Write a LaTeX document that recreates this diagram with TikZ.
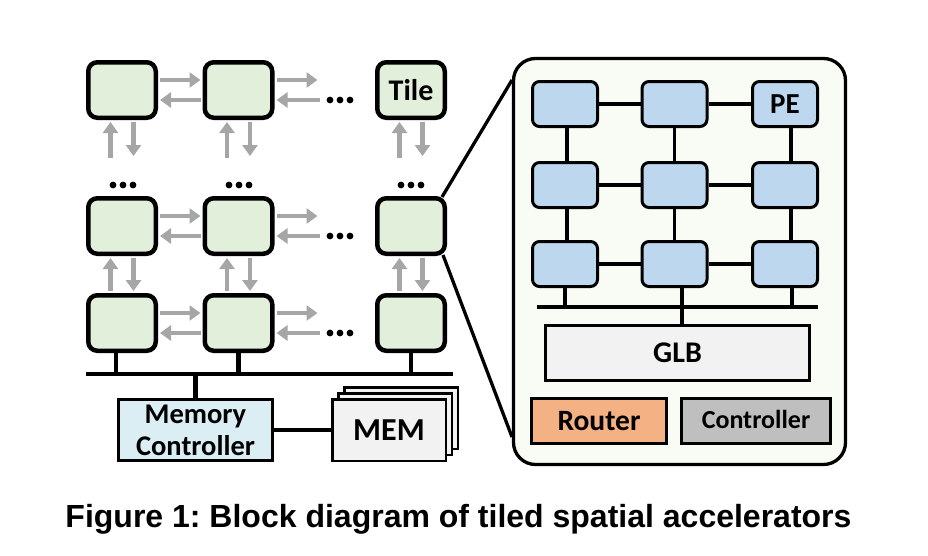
\documentclass[tikz,border=0pt]{standalone}
\usepackage{fontspec}
\setmainfont{Carlito}
\newfontfamily\capfont{Liberation Sans}
\usetikzlibrary{arrows.meta,calc}
\frenchspacing
\definecolor{tilegreen}{HTML}{E2EFDA}
\definecolor{pecol}{HTML}{BDD7EE}
\definecolor{mccol}{HTML}{DAEEF3}
\definecolor{routercol}{HTML}{F4B183}
\definecolor{ctrlcol}{HTML}{BFBFBF}
\definecolor{glbcol}{HTML}{F2F2F2}
\definecolor{bigcol}{HTML}{F9FBF5}
\definecolor{arrowgray}{HTML}{A6A6A6}
\tikzset{
  tilebox/.style={draw, line width=4.5pt, rounded corners=9pt, fill=tilegreen,
    minimum width=67.5pt, minimum height=55.5pt, inner sep=0pt,
    font=\bfseries\fontsize{30}{33}\selectfont},
  pebox/.style={draw, line width=3pt, rounded corners=7pt, fill=pecol,
    minimum width=65pt, minimum height=45pt, inner sep=0pt,
    font=\bfseries\fontsize{29}{32}\selectfont},
  plainbox/.style={draw, line width=3pt, inner sep=0pt,
    font=\bfseries\fontsize{30}{33}\selectfont},
  garrow/.style={draw=arrowgray, line width=4.5pt,
    -{Triangle[length=11pt,width=15pt]}, shorten >=2pt, shorten <=2pt},
  busline/.style={line width=4.5pt},
  thinline/.style={line width=3.3pt},
}
\newcommand{\mydots}[2]{%
  \fill (#1-10,#2) circle (3.4pt);
  \fill (#1,#2) circle (3.4pt);
  \fill (#1+10,#2) circle (3.4pt);}
\begin{document}
\begin{tikzpicture}[x=1pt,y=-1pt]
\useasboundingbox (0,0) rectangle (928,555);
% ---------- tiles ----------
\node[tilebox] (t11) at (122,90) {};
\node[tilebox] (t12) at (238.5,90) {};
\node[tilebox] (t13) at (411,90) {\raisebox{-3pt}{Tile}};
\node[tilebox] (t21) at (122,226) {};
\node[tilebox] (t22) at (238.5,226) {};
\node[tilebox] (t23) at (411,226) {};
\node[tilebox] (t31) at (122,323) {};
\node[tilebox] (t32) at (238.5,323) {};
\node[tilebox] (t33) at (411,323) {};
% horizontal arrows
\foreach \r in {1,2,3}{
  \draw[garrow] ([yshift=10pt]t\r1.east) -- ([yshift=10pt]t\r2.west);
  \draw[garrow] ([yshift=-10pt]t\r2.west) -- ([yshift=-10pt]t\r1.east);
  \draw[garrow] ([yshift=10pt]t\r2.east) -- ++(45,0);
  \draw[garrow,shorten <=0pt] ([yshift=-10pt]t\r2.east) ++(45,0) -- ([yshift=-10pt]t\r2.east);
}
\mydots{340}{100}
\mydots{340}{236}
\mydots{340}{333}
% vertical arrows
\foreach \c in {1,2,3}{
  \draw[garrow,shorten <=0pt] ([xshift=-11.5pt]t1\c.south) ++(0,38) -- ([xshift=-11.5pt]t1\c.south);
  \draw[garrow] ([xshift=11.5pt]t1\c.south) -- ++(0,38);
  \draw[garrow] ([xshift=-11.5pt]t3\c.north) -- ([xshift=-11.5pt]t2\c.south);
  \draw[garrow] ([xshift=11.5pt]t2\c.south) -- ([xshift=11.5pt]t3\c.north);
}
\mydots{123}{185}
\mydots{239}{185}
\mydots{411}{185}
% bus
\coordinate (busL) at (86,374);
\coordinate (busR) at (453,374);
\draw[busline] (busL) -- (busR);
\draw[busline] ([xshift=-6pt]t31.south) -- ([xshift=-6pt]t31.south |- busL);
\draw[busline] (t32.south) -- (t32.south |- busL);
\draw[busline] (t33.south) -- (t33.south |- busL);
% memory controller
\node[plainbox, fill=mccol, minimum width=154pt, minimum height=61pt,
  align=center, font=\bfseries\fontsize{28.5}{33}\selectfont] (mc) at (195.5,430)
  {Memory\\[-1pt]Controller};
\draw[busline] (mc.north) -- (mc.north |- busL);
% MEM stack
\node[draw, line width=2.5pt, fill=glbcol, minimum width=113.5pt, minimum height=61.5pt] (mem3) at (401,418) {};
\node[draw, line width=2.5pt, fill=glbcol, minimum width=113.5pt, minimum height=61.5pt] (mem2) at (395,424) {};
\node[draw, line width=2.5pt, fill=glbcol, minimum width=113.5pt, minimum height=61.5pt,
  font=\bfseries\fontsize{32}{35}\selectfont] (mem) at (389,430) {MEM};
\draw[thinline] (mc.east) -- (mem.west);
% ---------- zoomed tile ----------
\node[draw, line width=3.3pt, rounded corners=22pt, fill=bigcol,
  minimum width=332pt, minimum height=406pt] (big) at (679.5,261.5) {};
\coordinate (zt) at (512,80);
\coordinate (zb) at (512,437);
\draw[thinline] ([xshift=-5pt,yshift=-1pt]t23.north east) -- (zt);
\draw[thinline] ([xshift=-4pt,yshift=1pt]t23.south east) -- (zb);
% PEs
\node[pebox] (p11) at (565,104) {};
\node[pebox] (p12) at (674.5,104) {};
\node[pebox] (p13) at (785,104) {\raisebox{-3pt}{PE}};
\node[pebox] (p21) at (565,185) {};
\node[pebox] (p22) at (674.5,185) {};
\node[pebox] (p23) at (785,185) {};
\node[pebox] (p31) at (565,264) {};
\node[pebox] (p32) at (674.5,264) {};
\node[pebox] (p33) at (785,264) {};
\foreach \r in {1,2,3}{
  \draw[thinline] (p\r1.east) -- (p\r2.west);
  \draw[thinline] (p\r2.east) -- (p\r3.west);
}
\draw[thinline] ([xshift=2pt]p11.south) -- ([xshift=2pt]p21.north);
\draw[thinline] ([xshift=2pt]p21.south) -- ([xshift=2pt]p31.north);
\draw[thinline] (p12.south) -- (p22.north);
\draw[thinline] (p22.south) -- (p32.north);
\draw[thinline] ([xshift=6pt]p13.south) -- ([xshift=6pt]p23.north);
\draw[thinline] ([xshift=6pt]p23.south) -- ([xshift=6pt]p33.north);
% inner bus
\coordinate (ibL) at (537,307);
\coordinate (ibR) at (818,307);
\draw[thinline] (ibL) -- (ibR);
\draw[thinline] (p31.south) -- (p31.south |- ibL);
\draw[thinline] ([xshift=7.5pt]p32.south) -- ([xshift=7.5pt]p32.south |- ibL);
\draw[thinline] ([xshift=7pt]p33.south) -- ([xshift=7pt]p33.south |- ibL);
% GLB, router, controller
\node[plainbox, fill=glbcol, minimum width=264pt, minimum height=55pt] (glb) at (677.5,353) {GLB};
\draw[thinline] (glb.north -| p32.south) ++(7.5,0) coordinate (gs) -- (gs |- ibL);
\node[plainbox, fill=routercol, minimum width=135pt, minimum height=45pt,
  font=\bfseries\fontsize{29.5}{32}\selectfont] (router) at (599,421) {Router};
\node[plainbox, fill=ctrlcol, minimum width=149pt, minimum height=45pt,
  font=\bfseries\fontsize{26}{28}\selectfont] (ctrl) at (756,421) {\raisebox{3pt}{Controller}};
% caption
\node[font=\capfont\bfseries\fontsize{32}{35}\selectfont, anchor=base] (cap) at (458.5,527)
  {Figure 1: Block diagram of tiled spatial accelerators};
\end{tikzpicture}
\end{document}
